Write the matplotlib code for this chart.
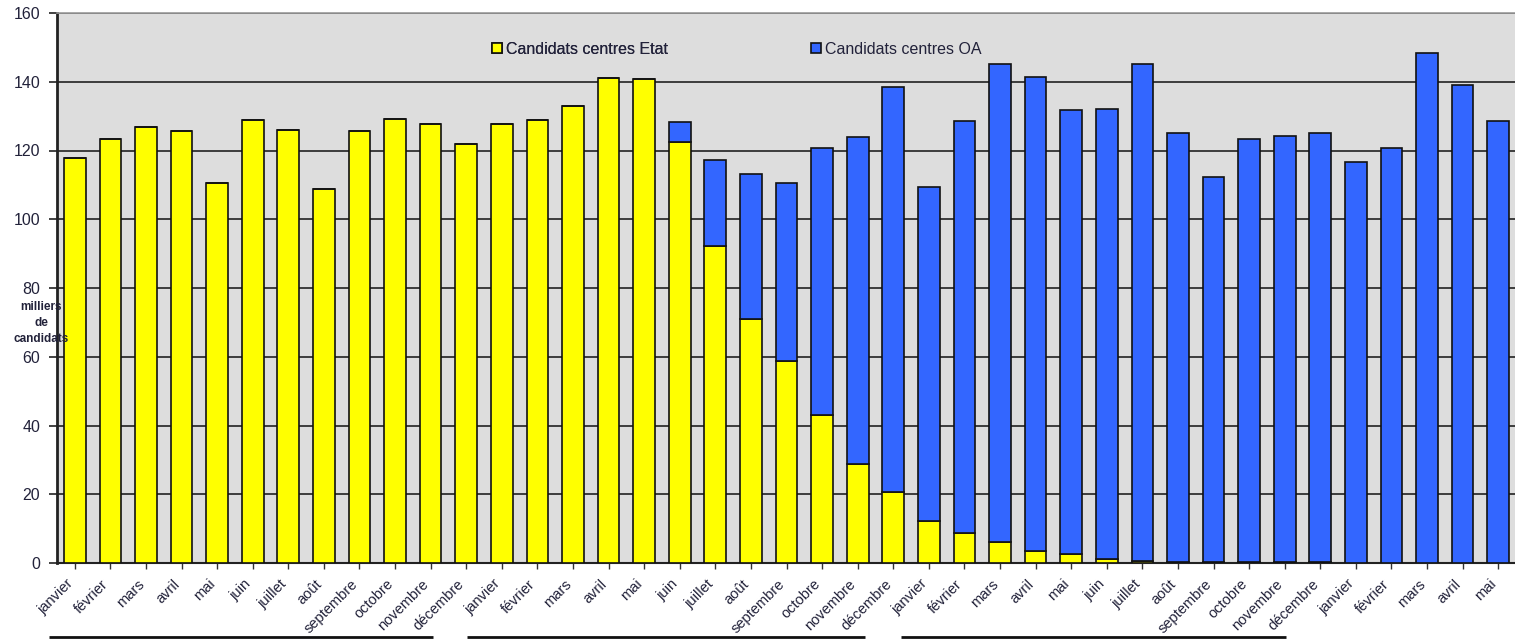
import matplotlib
matplotlib.use("Agg")
import matplotlib.pyplot as plt
import matplotlib.transforms as mtransforms
from matplotlib.patches import Patch
import numpy as np

plt.rcParams["font.family"] = ["Liberation Sans", "DejaVu Sans"]

# mois (3 années complètes + 5 mois)
months_year = ["janvier", "février", "mars", "avril", "mai", "juin", "juillet",
               "août", "septembre", "octobre", "novembre", "décembre"]
month_labels = months_year * 3 + months_year[:5]

# milliers de candidats, centres Etat
etat = [117.7, 123.4, 126.9, 125.6, 110.6, 128.9, 126.0, 108.9, 125.6, 129.3, 127.7, 122.0,
        127.7, 128.9, 133.0, 141.0, 140.8, 122.4, 92.2, 70.9, 58.7, 43.0, 28.9, 20.6,
        12.2, 8.7, 6.1, 3.5, 2.6, 1.3, 0.7, 0.3, 0.3, 0.3, 0.3, 0.3,
        0, 0, 0, 0, 0]

# milliers de candidats, centres OA
oa = [0, 0, 0, 0, 0, 0, 0, 0, 0, 0, 0, 0,
      0, 0, 0, 0, 0, 5.8, 25.0, 42.3, 51.9, 77.8, 94.9, 118.0,
      97.2, 119.8, 139.1, 138.0, 129.1, 130.9, 144.5, 124.7, 112.1, 123.1, 124.0, 124.7,
      116.7, 120.8, 148.3, 139.1, 128.6]

# traits soulignant chaque année complète (début, fin en unités de barres)
year_spans = [(-0.72, 10.06), (11.02, 22.2), (23.23, 34.03)]

yellow = "#FFFF00"
blue = "#3366FF"
text_col = "#22223a"

fig = plt.figure(figsize=(15.15, 6.39), dpi=100)
ax = fig.add_axes([57 / 1515, 1 - 563 / 639, 1459 / 1515, 550 / 639])
ax.set_facecolor("#DDDDDD")

x = np.arange(len(month_labels))
ax.bar(x, etat, width=0.61, color=yellow, edgecolor="#111111", linewidth=1.2, zorder=3)
ax.bar(x, oa, width=0.61, bottom=etat, color=blue, edgecolor="#111111", linewidth=1.2, zorder=3)

ax.set_xlim(-0.5, len(month_labels) - 0.5)
ax.set_ylim(0, 160)
ax.set_yticks(range(0, 161, 20))
ax.yaxis.grid(True, color="#111111", linewidth=1.1, zorder=1)
ax.set_axisbelow(True)

ax.set_xticks(x)
ax.set_xticklabels(month_labels, rotation=45, ha="right", rotation_mode="anchor",
                   fontsize=10.5, color=text_col)
ax.tick_params(axis="x", length=4, width=1, color="#333333", pad=6)
ax.tick_params(axis="y", length=6, width=1.2, color="#222222", pad=6,
               labelsize=11.5, labelcolor=text_col)

# décale les libellés un peu vers la gauche, comme dans Excel
fig.canvas.draw()
shift = mtransforms.ScaledTranslation(-9 / 100, 0, fig.dpi_scale_trans)
for t in ax.xaxis.get_major_ticks():
    t.label1.set_transform(t.label1.get_transform() + shift)

for s in ["top", "right"]:
    ax.spines[s].set_color("#999999")
    ax.spines[s].set_linewidth(1.2)
ax.spines["left"].set_color("#222222")
ax.spines["left"].set_linewidth(2)
ax.spines["bottom"].set_color("#222222")
ax.spines["bottom"].set_linewidth(1.5)

fig.text(41 / 1515, 1 - 323 / 639, "milliers\nde\ncandidats", ha="center", va="center",
         fontsize=8.5, fontweight="bold", color=text_col, linespacing=1.45)

# légendes
leg1 = fig.legend(handles=[Patch(facecolor=yellow, edgecolor="#111111", linewidth=1.2)],
                  labels=["Candidats centres Etat"], loc="center left",
                  bbox_to_anchor=(492 / 1515, 1 - 49 / 639), frameon=False,
                  fontsize=11.5, handlelength=0.65, handleheight=0.65,
                  handletextpad=0.25, borderpad=0, borderaxespad=0, labelcolor=text_col)
fig.add_artist(leg1)
fig.legend(handles=[Patch(facecolor=blue, edgecolor="#111111", linewidth=1.2)],
           labels=["Candidats centres OA"], loc="center left",
           bbox_to_anchor=(811 / 1515, 1 - 49 / 639), frameon=False,
           fontsize=11.5, handlelength=0.65, handleheight=0.65,
           handletextpad=0.25, borderpad=0, borderaxespad=0, labelcolor=text_col)

# traits sous chaque année
trans = mtransforms.blended_transform_factory(ax.transData, fig.transFigure)
for x0, x1 in year_spans:
    ax.plot([x0, x1], [1 - 636.5 / 639] * 2, color="#111111",
            linewidth=2, transform=trans, clip_on=False, solid_capstyle="butt")

fig.savefig("out.png", dpi=100)
